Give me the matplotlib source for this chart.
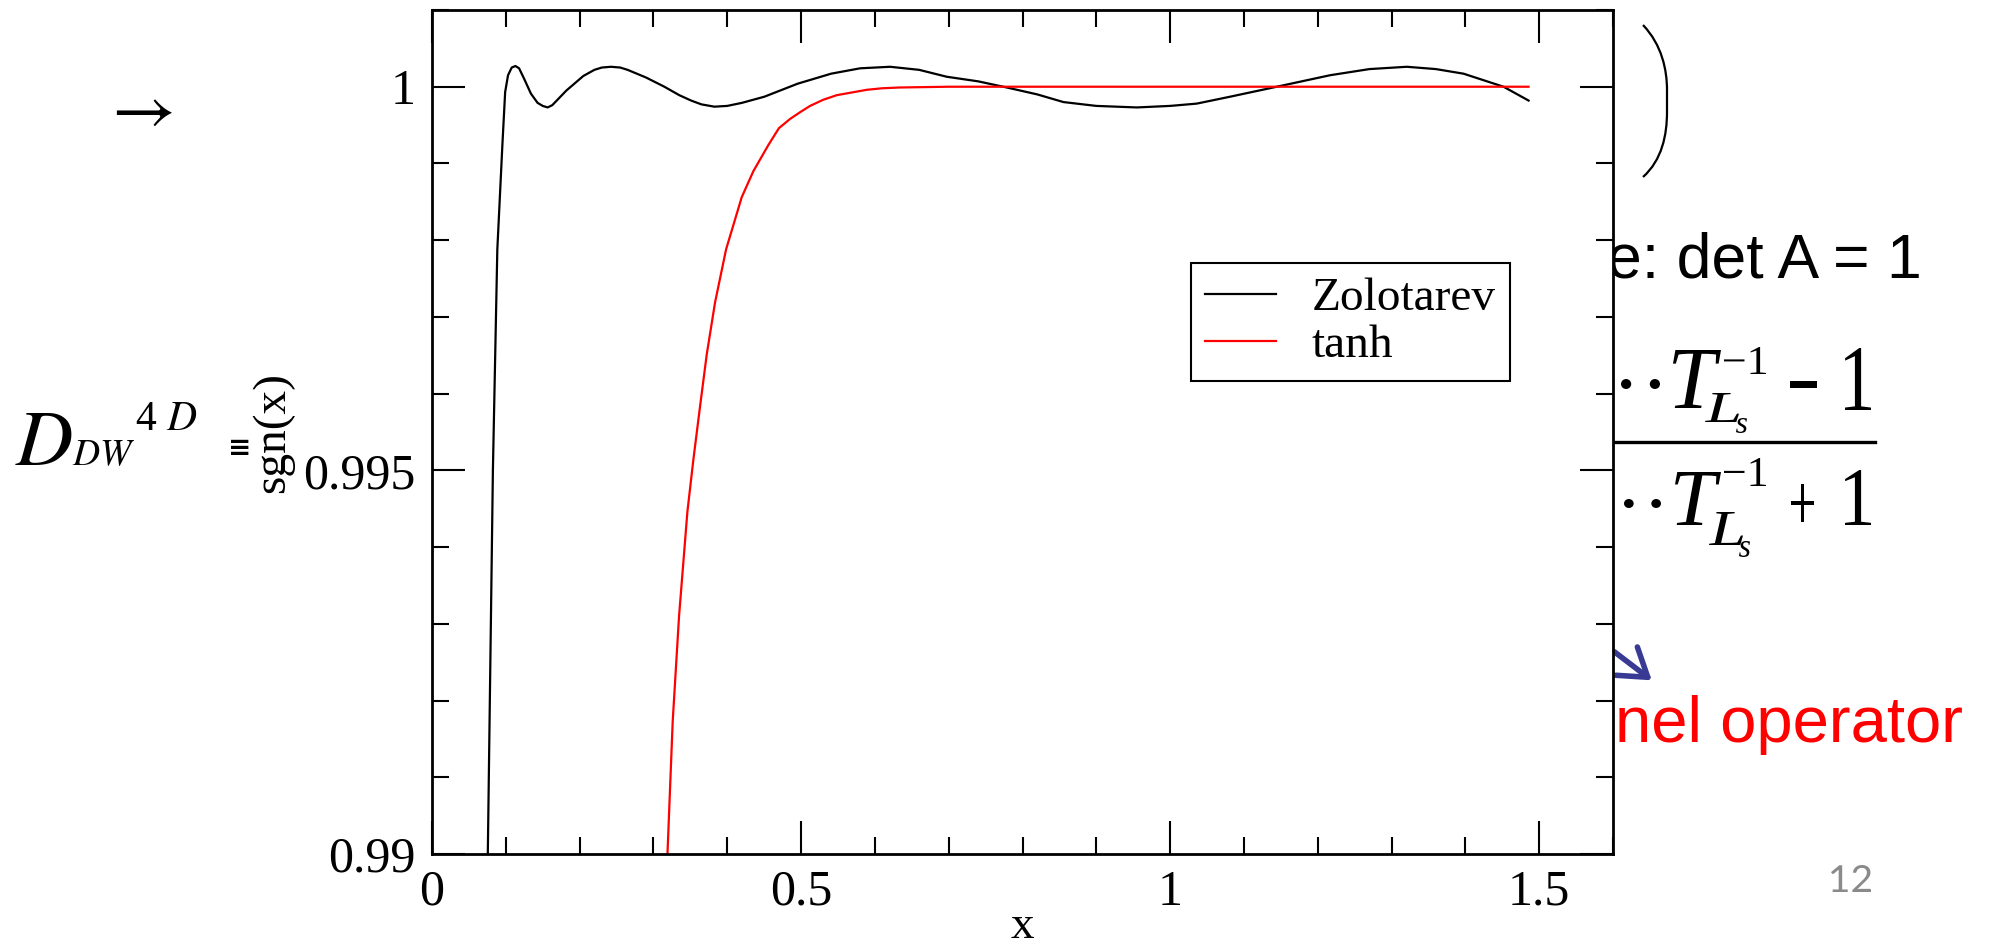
import matplotlib
matplotlib.use("Agg")
import matplotlib.pyplot as plt
from matplotlib.ticker import MultipleLocator, FuncFormatter
from matplotlib.path import Path
from matplotlib.patches import PathPatch, FancyArrowPatch
from matplotlib.lines import Line2D
from matplotlib.textpath import TextPath
from matplotlib.transforms import Affine2D, IdentityTransform
from matplotlib.font_manager import FontProperties

# values
zolo_x = [0.0756, 0.0825, 0.0885, 0.0954, 0.0991, 0.1030, 0.1080, 0.1130, 0.1180,
          0.1250, 0.1340, 0.1430, 0.1500, 0.1567, 0.1630, 0.1720, 0.1820, 0.1929,
          0.2050, 0.2200, 0.2300, 0.2425, 0.2550, 0.2650, 0.2900, 0.3148, 0.3350,
          0.3510, 0.3650, 0.3826, 0.4000, 0.4200, 0.4503, 0.4955, 0.5407, 0.5800,
          0.6206, 0.6600, 0.6974, 0.7400, 0.7787, 0.8200, 0.8555, 0.9000, 0.9548,
          1.0000, 1.0361, 1.0813, 1.1445, 1.2168, 1.2700, 1.3207, 1.3600, 1.3975,
          1.4517, 1.4856]
zolo_y = [0.99000, 0.99500, 0.99788, 0.99925, 0.99993, 1.00015, 1.00025, 1.00027, 1.00024,
          1.00010, 0.99991, 0.99979, 0.99975, 0.99973, 0.99976, 0.99985, 0.99995, 1.00004,
          1.00014, 1.00022, 1.00025, 1.00026, 1.00025, 1.00022, 1.00012, 1.00000, 0.99989,
          0.99982, 0.99977, 0.99974, 0.99975, 0.99979, 0.99987, 1.00004, 1.00017, 1.00024,
          1.00026, 1.00022, 1.00013, 1.00007, 0.99999, 0.99990, 0.99980, 0.99975, 0.99973,
          0.99975, 0.99978, 0.99987, 1.00000, 1.00015, 1.00023, 1.00026, 1.00023, 1.00017,
          1.00000, 0.99982]

tanh_x = [0.3190, 0.3261, 0.3347, 0.3460, 0.3541, 0.3631, 0.3722, 0.3835, 0.3984,
          0.4196, 0.4354, 0.4557, 0.4700, 0.4851, 0.4990, 0.5122, 0.5300, 0.5484,
          0.5890, 0.6100, 0.6335, 0.7000, 1.4856]
tanh_y = [0.99000, 0.99173, 0.99310, 0.99446, 0.99514, 0.99583, 0.99651, 0.99719, 0.99788,
          0.99856, 0.99890, 0.99924, 0.99946, 0.99958, 0.99967, 0.99975, 0.99983, 0.99989,
          0.99996, 0.99998, 0.99999, 1.00000, 1.00000]

series_labels = ["Zolotarev", "tanh"]
x_ticks = [0, 0.5, 1, 1.5]
y_ticks = [0.99, 0.995, 1]

W, H = 1989, 944
plt.rcParams["font.family"] = ["Liberation Serif", "DejaVu Serif"]
plt.rcParams["mathtext.fontset"] = "stix"

SERIF = FontProperties(family="Liberation Serif")
SERIF_IT = FontProperties(family="Liberation Serif", style="italic")


def fx(px):
    return px / W


def fy(py):
    return 1 - py / H


fig = plt.figure(figsize=(W / 100, H / 100), dpi=100)


def squeezed(s, left, top, right, bottom, color="black", prop=SERIF):
    # glyphs stretched to fill a pixel box, like a resized picture on a slide
    tp = TextPath((0, 0), s, size=100, prop=prop)
    ext = tp.get_extents()
    tr = (Affine2D().translate(-ext.x0, -ext.y0)
          .scale((right - left) / ext.width, (bottom - top) / ext.height)
          .translate(left, H - bottom))
    fig.add_artist(PathPatch(tr.transform_path(tp), facecolor=color, lw=0,
                             transform=IdentityTransform(), zorder=-1))


ax = fig.add_axes([fx(432), fy(854), (1613 - 432) / W, (854 - 10) / H])

ax.plot(zolo_x, zolo_y, color="black", lw=1.6, label=series_labels[0])
ax.plot(tanh_x, tanh_y, color="red", lw=1.6, label=series_labels[1])

ax.set_xlim(0, 1.6)
ax.set_ylim(0.99, 1.001)
ax.set_xticks(x_ticks)
ax.set_yticks(y_ticks)
ax.xaxis.set_minor_locator(MultipleLocator(0.1))
ax.yaxis.set_minor_locator(MultipleLocator(0.001))
fmt = FuncFormatter(lambda v, p: f"{v:g}")
ax.xaxis.set_major_formatter(fmt)
ax.yaxis.set_major_formatter(fmt)
ax.tick_params(which="both", direction="in", top=True, right=True, width=1.5, labelsize=36)
ax.tick_params(which="major", length=24)
ax.tick_params(which="minor", length=12)
ax.tick_params(axis="x", pad=11)
ax.tick_params(axis="y", pad=12)
for s in ax.spines.values():
    s.set_linewidth(2)

ax.set_xlabel("x", fontsize=34)
ax.xaxis.set_label_coords(0.5, -0.1)
ax.xaxis.label.set_va("baseline")
ax.set_ylabel("sgn(x)", fontsize=34)
ax.yaxis.set_label_coords(-0.1346, 0.5)
ax.yaxis.label.set_va("center")

leg = ax.legend(loc="upper left", bbox_to_anchor=(fx(1191), fy(263)),
                bbox_transform=fig.transFigure, fontsize=34, fancybox=False,
                edgecolor="black", framealpha=1, borderaxespad=0, borderpad=0.3,
                handlelength=1.5, handletextpad=0.75, labelspacing=0.08)
leg.get_frame().set_linewidth(1.5)

# slide content around the pasted plot (drawn beneath the axes)
fig.text(fx(137), fy(112), r"$\rightarrow$", fontsize=50, ha="center", va="center", zorder=-1)
fig.text(fx(15), fy(465), r"$D$", fontsize=57, ha="left", va="baseline", zorder=-1)
fig.text(fx(72), fy(465), r"$DW$", fontsize=27, ha="left", va="baseline", zorder=-1)
fig.text(fx(135), fy(430), "4", fontsize=30, ha="left", va="baseline", zorder=-1)
fig.text(fx(166), fy(430), r"$D$", fontsize=30, ha="left", va="baseline", zorder=-1)
fig.text(fx(240), fy(448), "≡", fontsize=20, fontweight="bold", family="DejaVu Sans",
         ha="center", va="center", zorder=-1)

fig.text(fx(1922), fy(277), "e: det A = 1", fontsize=45, family="Liberation Sans",
         ha="right", va="baseline", zorder=-1)

# fraction, piece by piece (left, top, right, bottom in pixels)
squeezed("··", 1621, 379, 1660, 389)
squeezed("T", 1673, 350, 1721, 408, prop=SERIF_IT)
squeezed("−1", 1724, 347, 1766, 374)
squeezed("L", 1705, 393, 1739, 422, prop=SERIF_IT)
squeezed("s", 1736, 418, 1747, 433, prop=SERIF_IT)
squeezed("−", 1790, 381, 1817, 388)
squeezed("1", 1845, 348, 1871, 410)

squeezed("··", 1624, 499, 1661, 508)
squeezed("T", 1675, 472, 1721, 525, prop=SERIF_IT)
squeezed("−1", 1724, 458, 1766, 486)
squeezed("L", 1709, 512, 1743, 545, prop=SERIF_IT)
squeezed("s", 1739, 541, 1750, 557, prop=SERIF_IT)
squeezed("+", 1791, 484, 1814, 522)
squeezed("1", 1845, 470, 1871, 525)

fig.add_artist(Line2D([fx(1560), fx(1875)], [fy(442), fy(442)], color="black", lw=2.4,
                      transform=fig.transFigure, zorder=-1))

fig.add_artist(FancyArrowPatch((fx(1612), fy(650)), (fx(1654), fy(682)),
                               arrowstyle="->,head_length=0.6,head_width=0.4",
                               mutation_scale=32, color="#383a94", lw=4,
                               transform=fig.transFigure, zorder=-1))
fig.text(fx(1615), fy(742), "nel operator", fontsize=47, color="red",
         family="Liberation Sans", ha="left", va="baseline", zorder=-1)
squeezed("12", 1831, 865, 1871, 892, color="#8a8a8a",
         prop=FontProperties(family="Lato"))

# tall right parenthesis
pts = [(1643, 25), (1662, 45), (1667, 70), (1667, 90), (1667, 112),
       (1667, 135), (1662, 160), (1643, 177)]
codes = [Path.MOVETO, Path.CURVE4, Path.CURVE4, Path.CURVE4, Path.LINETO,
         Path.CURVE4, Path.CURVE4, Path.CURVE4]
bracket = Path([(fx(a), fy(b)) for a, b in pts], codes)
fig.add_artist(PathPatch(bracket, fill=False, lw=1.6, color="black",
                         transform=fig.transFigure, zorder=-1))

fig.savefig("out.png", dpi=100)
